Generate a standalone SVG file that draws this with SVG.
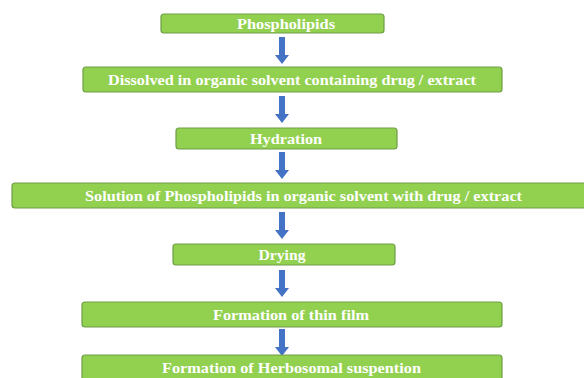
<svg xmlns="http://www.w3.org/2000/svg" width="584" height="378" viewBox="0 0 584 378">
<defs>
<style>
.box{fill:#92D050;stroke:#6E9E45;stroke-width:1.2}
.t{font-family:"Liberation Serif","Times New Roman",serif;font-weight:bold;font-size:14px;fill:#FFFFFF;text-anchor:middle}
.arr{fill:#4472C4}
</style>
<path id="a" d="M-3,0 H3 V18 H7 L0,27 L-7,18 H-3 Z"/>
</defs>
<rect width="584" height="378" fill="#FFFFFF"/>
<g id="connectors" class="arr">
<use href="#a" x="282" y="37"/>
<use href="#a" x="282" y="96"/>
<use href="#a" x="282" y="152"/>
<use href="#a" x="282" y="212"/>
<use href="#a" x="282" y="270"/>
<use href="#a" x="282" y="329"/>
</g>
<g id="n1"><rect class="box" x="161" y="14" width="223" height="19" rx="3"/><text class="t" x="286" y="28.5" textLength="98" lengthAdjust="spacingAndGlyphs">Phospholipids</text></g>
<g id="n2"><rect class="box" x="83" y="67" width="419" height="25" rx="3"/><text class="t" x="292" y="84.5" textLength="368" lengthAdjust="spacingAndGlyphs">Dissolved in organic solvent containing drug / extract</text></g>
<g id="n3"><rect class="box" x="176" y="128" width="221" height="21" rx="3"/><text class="t" x="286" y="143.5" textLength="72" lengthAdjust="spacingAndGlyphs">Hydration</text></g>
<g id="n4"><rect class="box" x="12" y="183" width="576" height="25" rx="3"/><text class="t" x="303.5" y="201" textLength="437" lengthAdjust="spacingAndGlyphs">Solution of Phospholipids in organic solvent with drug / extract</text></g>
<g id="n5"><rect class="box" x="173" y="244" width="222" height="21" rx="3"/><text class="t" x="282" y="259.5" textLength="47" lengthAdjust="spacingAndGlyphs">Drying</text></g>
<g id="n6"><rect class="box" x="82" y="302" width="420" height="25" rx="3"/><text class="t" x="291" y="320" textLength="156" lengthAdjust="spacingAndGlyphs">Formation of thin film</text></g>
<g id="n7"><rect class="box" x="82" y="355" width="420" height="30" rx="3"/><text class="t" x="291.5" y="373" textLength="259" lengthAdjust="spacingAndGlyphs">Formation of Herbosomal suspention</text></g>
</svg>
